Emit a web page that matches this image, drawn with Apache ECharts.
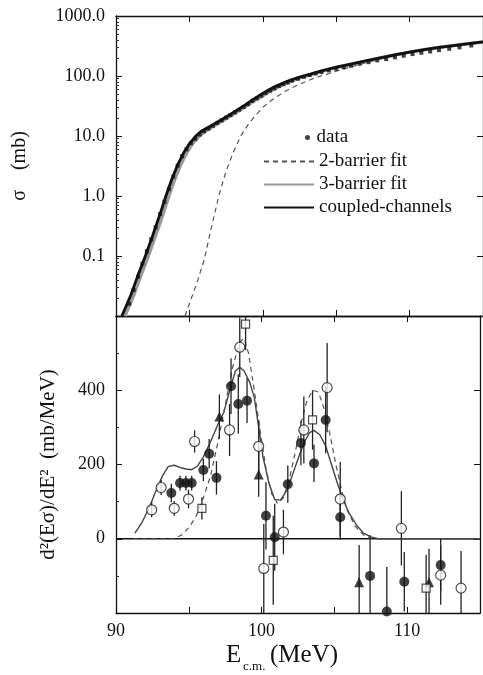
<!DOCTYPE html>
<html>
<head>
  <meta charset="utf-8">
</head>
<body style="margin: 0">
  <div id="container" style="width: 483px; height: 675px"></div>
  <script src="https://cdn.jsdelivr.net/npm/echarts@6/dist/echarts.min.js"></script>
  <script type="text/javascript">
    // ---- top panel: fusion cross section sigma (mb), log scale ----
    const dataTop = [
      [90.9, 0.016], [91.2, 0.027], [91.5, 0.045], [91.8, 0.075], [92.1, 0.12], [92.4, 0.19],
      [92.7, 0.3], [93.0, 0.5], [93.3, 0.8], [93.6, 1.3], [93.9, 2.1], [94.2, 3.2],
      [94.5, 4.6], [94.8, 6.0], [95.1, 7.6], [95.4, 9.0], [95.7, 10.6], [96.0, 12.0],
      [96.3, 13.3], [96.6, 14.8], [96.9, 16.5], [97.2, 18.2], [97.5, 20.2], [97.8, 22.3],
      [98.1, 24.8], [98.4, 27.5], [98.7, 30.5], [99.0, 34], [99.3, 38.5], [99.6, 42.5],
      [99.9, 47], [100.2, 52], [100.5, 57], [100.8, 62], [101.1, 68], [101.4, 73],
      [101.7, 78], [102.0, 84], [102.4, 90], [102.8, 97], [103.2, 104], [103.6, 110],
      [104.0, 116], [104.5, 124], [105.0, 132], [105.5, 140], [106.0, 148], [106.6, 160],
      [107.2, 170], [107.8, 182], [108.4, 192], [109.0, 205], [109.6, 218], [110.2, 232],
      [110.8, 244], [111.4, 256], [112.0, 270], [112.7, 284], [113.4, 300], [114.2, 322]
    ];
    const ccTop = [
      [90.4, 0.01], [91.0, 0.022], [91.5, 0.048], [92.0, 0.1], [92.5, 0.22], [93.0, 0.5],
      [93.4, 1.0], [93.8, 1.9], [94.2, 3.3], [94.6, 5.2], [95.0, 7.4], [95.4, 9.8],
      [95.8, 12], [96.3, 14], [96.8, 16.5], [97.3, 19.5], [97.8, 23], [98.3, 27.5],
      [98.8, 33], [99.3, 40], [99.8, 48], [100.3, 57], [100.8, 66], [101.3, 75],
      [101.8, 84], [102.5, 96], [103.2, 107], [104, 122], [105, 140], [106, 158],
      [107, 178], [108, 200], [109, 225], [110, 250], [111, 275], [112, 300],
      [113, 322], [114, 345], [115, 370]
    ];
    const bar3Top = [
      [90.6, 0.01], [91.2, 0.022], [91.7, 0.048], [92.2, 0.1], [92.7, 0.22], [93.2, 0.5],
      [93.6, 1.0], [94.0, 1.9], [94.4, 3.3], [94.8, 5.2], [95.2, 7.4], [95.6, 9.6],
      [96.0, 11.6], [96.5, 13.8], [97.0, 16.5], [97.5, 19.5], [98.0, 23], [98.5, 27.5],
      [99, 33], [99.5, 40], [100, 47], [100.5, 56], [101, 65], [101.5, 74],
      [102, 83], [102.5, 93], [103.2, 105], [104, 120], [105, 138], [106, 157],
      [107, 177], [108, 200], [109, 224], [110, 250], [111, 274], [112, 298],
      [113, 322], [114, 345], [115, 370]
    ];
    const bar2Top = [
      [94.7, 0.01], [95.0, 0.016], [95.5, 0.035], [96.0, 0.085], [96.5, 0.3], [97.0, 1.0],
      [97.5, 2.6], [98.0, 5.4], [98.5, 10], [99.0, 15.5], [99.5, 22], [100, 30],
      [100.5, 38], [101, 46], [101.5, 55], [102, 64], [102.5, 73], [103, 82],
      [103.5, 92], [104, 101], [104.5, 110], [105, 120], [106, 142], [107, 165],
      [108, 192], [109, 220], [110, 248], [111, 274], [112, 299], [113, 322],
      [114, 345], [115, 370]
    ];

    // ---- bottom panel: barrier distribution d2(E sigma)/dE2 (mb/MeV) ----
    const bar3Bot = [
      [91.3, 15], [91.8, 45], [92.3, 85], [92.7, 125], [93.2, 170], [93.6, 195],
      [94.0, 198], [94.4, 192], [94.8, 188], [95.2, 186], [95.6, 196], [96.0, 220],
      [96.5, 262], [97.0, 308], [97.4, 340], [97.8, 398], [98.2, 452], [98.5, 462],
      [98.8, 452], [99.2, 420], [99.5, 380], [99.8, 300], [100.1, 220], [100.5, 150],
      [100.9, 106], [101.3, 104], [101.7, 128], [102.1, 170], [102.5, 215], [102.9, 258],
      [103.3, 286], [103.6, 292], [104.0, 280], [104.4, 250], [104.8, 200], [105.2, 150],
      [105.6, 105], [106.0, 70], [106.5, 38], [107.0, 15], [107.5, 5], [108, 0], [115, 0]
    ];
    const bar2Bot = [
      [91.2, 0], [94.0, 0], [94.5, 10], [95.0, 30], [95.5, 60], [96.0, 110],
      [96.5, 170], [97.0, 260], [97.5, 360], [98.0, 460], [98.5, 530], [98.8, 540],
      [99.1, 500], [99.5, 400], [99.9, 290], [100.3, 190], [100.7, 120], [101.1, 95],
      [101.5, 110], [101.9, 160], [102.3, 230], [102.7, 310], [103.1, 370], [103.5, 400],
      [103.9, 395], [104.3, 350], [104.7, 280], [105.1, 200], [105.5, 130], [105.9, 75],
      [106.4, 35], [107.0, 10], [107.5, 0], [115, 0]
    ];
    // [E, value, error]
    const filledCirc = [
      [93.8, 123, 25], [94.4, 150, 20], [94.8, 150, 20], [95.2, 150, 20], [96.0, 185, 30],
      [96.4, 229, 40], [96.9, 164, 45], [97.9, 411, 75], [98.4, 363, 80], [99.0, 372, 60],
      [100.3, 62, 90], [100.9, 4, 90], [101.8, 147, 50], [102.7, 258, 60], [103.6, 203, 50],
      [104.4, 320, 90], [105.4, 58, 60], [107.45, -100, 110], [108.6, -196, 120],
      [109.8, -116, 80], [112.3, -71, 70]
    ];
    const openCirc = [
      [92.45, 78, 20], [93.1, 138, 20], [94.0, 82, 20], [94.98, 107, 25], [95.4, 262, 30],
      [97.8, 293, 70], [98.5, 516, 80], [99.8, 249, 70], [100.15, -80, 120], [101.5, 18, 60],
      [102.9, 293, 90], [104.5, 407, 120], [105.4, 107, 100], [109.6, 28, 100],
      [112.3, -98, 80], [113.7, -133, 100]
    ];
    const triUp = [
      [97.1, 329, 60], [99.8, 173, 60], [106.7, -117, 100], [111.5, -117, 90]
    ];
    const openSq = [
      [95.9, 82, 30], [98.9, 578, 70], [100.8, -58, 120], [103.5, 320, 80], [111.3, -133, 90]
    ];

    const FONT = 'Liberation Serif';
    const dom = document.getElementById('container');
    const myChart = echarts.init(dom);

    function xAxis(grid, pos, showLabel) {
      return {
        type: 'value', gridIndex: grid, position: pos, min: 90, max: 115, interval: 5,
        axisLine: { show: true, onZero: false, lineStyle: { color: '#111', width: 1.3 } },
        axisTick: { show: true, inside: true, length: 6, lineStyle: { color: '#111' } },
        axisLabel: {
          show: showLabel, margin: 9, color: '#111', fontFamily: FONT, fontSize: 18,
          formatter: function (v) { return v % 10 === 0 ? v : ''; }
        },
        splitLine: { show: false }
      };
    }

    const labelFont = { color: '#111', fontFamily: FONT, fontSize: 18 };
    const legendText = { color: '#111', fontFamily: FONT, fontSize: 19 };

    const option = {
      animation: false,
      backgroundColor: '#fff',
      grid: [
        { left: 116, top: 16, right: -4, height: 300 },
        { left: 116, top: 316, right: -4, height: 297 }
      ],
      xAxis: [
        xAxis(0, 'bottom', false),
        xAxis(0, 'top', false),
        xAxis(1, 'bottom', true),
        xAxis(1, 'top', false)
      ],
      yAxis: [
        {
          type: 'log', gridIndex: 0, logBase: 10, min: 0.01, max: 1000,
          name: 'σ    (mb)', nameLocation: 'middle', nameGap: 86,
          nameTextStyle: { color: '#111', fontFamily: FONT, fontSize: 20 },
          axisLine: { show: true, lineStyle: { color: '#111', width: 1.3 } },
          axisTick: { inside: true, length: 6, lineStyle: { color: '#111' } },
          minorTick: { show: true, splitNumber: 9, length: 3, lineStyle: { color: '#333' } },
          axisLabel: Object.assign({ margin: 11, formatter: function (v) {
            return v >= 0.1 ? v.toFixed(1) : '';
          } }, labelFont),
          splitLine: { show: false }
        },
        {
          type: 'log', gridIndex: 0, logBase: 10, min: 0.01, max: 1000, position: 'right',
          axisLine: { show: true, lineStyle: { color: '#111', width: 1.3 } },
          axisTick: { inside: true, length: 6, lineStyle: { color: '#111' } },
          axisLabel: { show: false }, splitLine: { show: false }
        },
        {
          type: 'value', gridIndex: 1, min: -200, max: 600, interval: 200,
          name: 'd²(Eσ)/dE²  (mb/MeV)', nameLocation: 'middle', nameGap: 57,
          nameTextStyle: { color: '#111', fontFamily: FONT, fontSize: 21 },
          axisLine: { show: true, onZero: false, lineStyle: { color: '#111', width: 1.3 } },
          axisTick: { inside: true, length: 6, lineStyle: { color: '#111' } },
          minorTick: { show: true, splitNumber: 2, length: 3, lineStyle: { color: '#333' } },
          axisLabel: Object.assign({ margin: 11, formatter: function (v) {
            return (v === 0 || v === 200 || v === 400) ? v : '';
          } }, labelFont),
          splitLine: { show: false }
        },
        {
          type: 'value', gridIndex: 1, min: -200, max: 600, interval: 200, position: 'right',
          axisLine: { show: true, onZero: false, lineStyle: { color: '#111', width: 1.3 } },
          axisTick: { inside: true, length: 6, lineStyle: { color: '#111' } },
          axisLabel: { show: false }, splitLine: { show: false }
        }
      ],
      legend: [
        {
          data: ['data'], orient: 'vertical', left: 305, top: 128, padding: 0,
          itemWidth: 8, itemHeight: 5, icon: 'circle',
          textStyle: legendText
        },
        {
          data: ['2-barrier fit', '3-barrier fit', 'coupled-channels'],
          orient: 'vertical', left: 263, top: 152, padding: 0,
          itemWidth: 50, itemHeight: 12, itemGap: 4,
          itemStyle: { opacity: 0 },
          textStyle: legendText
        }
      ],
      graphic: [
        { type: 'text', left: 226, top: 643, style: { text: 'E', font: '25px "Liberation Serif"', fill: '#111' } },
        { type: 'text', left: 243, top: 660, style: { text: 'c.m.', font: '13px "Liberation Serif"', fill: '#111' } },
        { type: 'text', left: 270, top: 643, style: { text: '(MeV)', font: '25px "Liberation Serif"', fill: '#111' } }
      ],
      series: [
        {
          name: '2-barrier fit', type: 'line', xAxisIndex: 0, yAxisIndex: 0, data: bar2Top,
          symbol: 'none', lineStyle: { color: '#555', width: 1.2, type: [5, 4] }, z: 3
        },
        {
          name: '3-barrier fit', type: 'line', xAxisIndex: 0, yAxisIndex: 0, data: bar3Top,
          symbol: 'none', lineStyle: { color: '#999', width: 3.5 }, z: 3
        },
        {
          name: 'coupled-channels', type: 'line', xAxisIndex: 0, yAxisIndex: 0, data: ccTop,
          symbol: 'none', lineStyle: { color: '#111', width: 2.8 }, z: 4
        },
        {
          name: 'data', type: 'scatter', xAxisIndex: 0, yAxisIndex: 0, data: dataTop,
          symbol: 'rect', symbolSize: 4, itemStyle: { color: '#111' }, z: 5
        },
        {
          name: 'zero', type: 'line', xAxisIndex: 2, yAxisIndex: 2, data: [[90, 0], [115, 0]],
          symbol: 'none', lineStyle: { color: '#111', width: 1.4 }, z: 2
        },
        {
          name: 'b3', type: 'line', xAxisIndex: 2, yAxisIndex: 2, data: bar3Bot,
          symbol: 'none', lineStyle: { color: '#444', width: 1.4 }, z: 3
        },
        {
          name: 'b2', type: 'line', xAxisIndex: 2, yAxisIndex: 2, data: bar2Bot,
          symbol: 'none', lineStyle: { color: '#555', width: 1.2, type: [5, 4] }, z: 3
        },
        {
          name: 'errors', type: 'custom', xAxisIndex: 2, yAxisIndex: 2, clip: true, z: 4,
          data: filledCirc.concat(openCirc, triUp, openSq),
          encode: { x: 0, y: 1 },
          renderItem: function (params, api) {
            const x = api.value(0), y = api.value(1), e = api.value(2);
            const p1 = api.coord([x, y - e]);
            const p2 = api.coord([x, y + e]);
            return {
              type: 'line',
              shape: { x1: p1[0], y1: p1[1], x2: p2[0], y2: p2[1] },
              style: { stroke: '#222', lineWidth: 1.3 }
            };
          }
        },
        {
          name: 'filled', type: 'scatter', xAxisIndex: 2, yAxisIndex: 2, data: filledCirc,
          symbol: 'circle', symbolSize: 10, itemStyle: { color: '#111' }, z: 5
        },
        {
          name: 'open', type: 'scatter', xAxisIndex: 2, yAxisIndex: 2, data: openCirc,
          symbol: 'circle', symbolSize: 10,
          itemStyle: { color: '#fff', borderColor: '#222', borderWidth: 1.2 }, z: 5
        },
        {
          name: 'tri', type: 'scatter', xAxisIndex: 2, yAxisIndex: 2, data: triUp,
          symbol: 'triangle', symbolSize: 10, itemStyle: { color: '#111' }, z: 5
        },
        {
          name: 'sq', type: 'scatter', xAxisIndex: 2, yAxisIndex: 2, data: openSq,
          symbol: 'rect', symbolSize: 8,
          itemStyle: { color: '#fff', borderColor: '#222', borderWidth: 1.2 }, z: 5
        }
      ]
    };

    myChart.setOption(option);
  </script>
</body>
</html>
